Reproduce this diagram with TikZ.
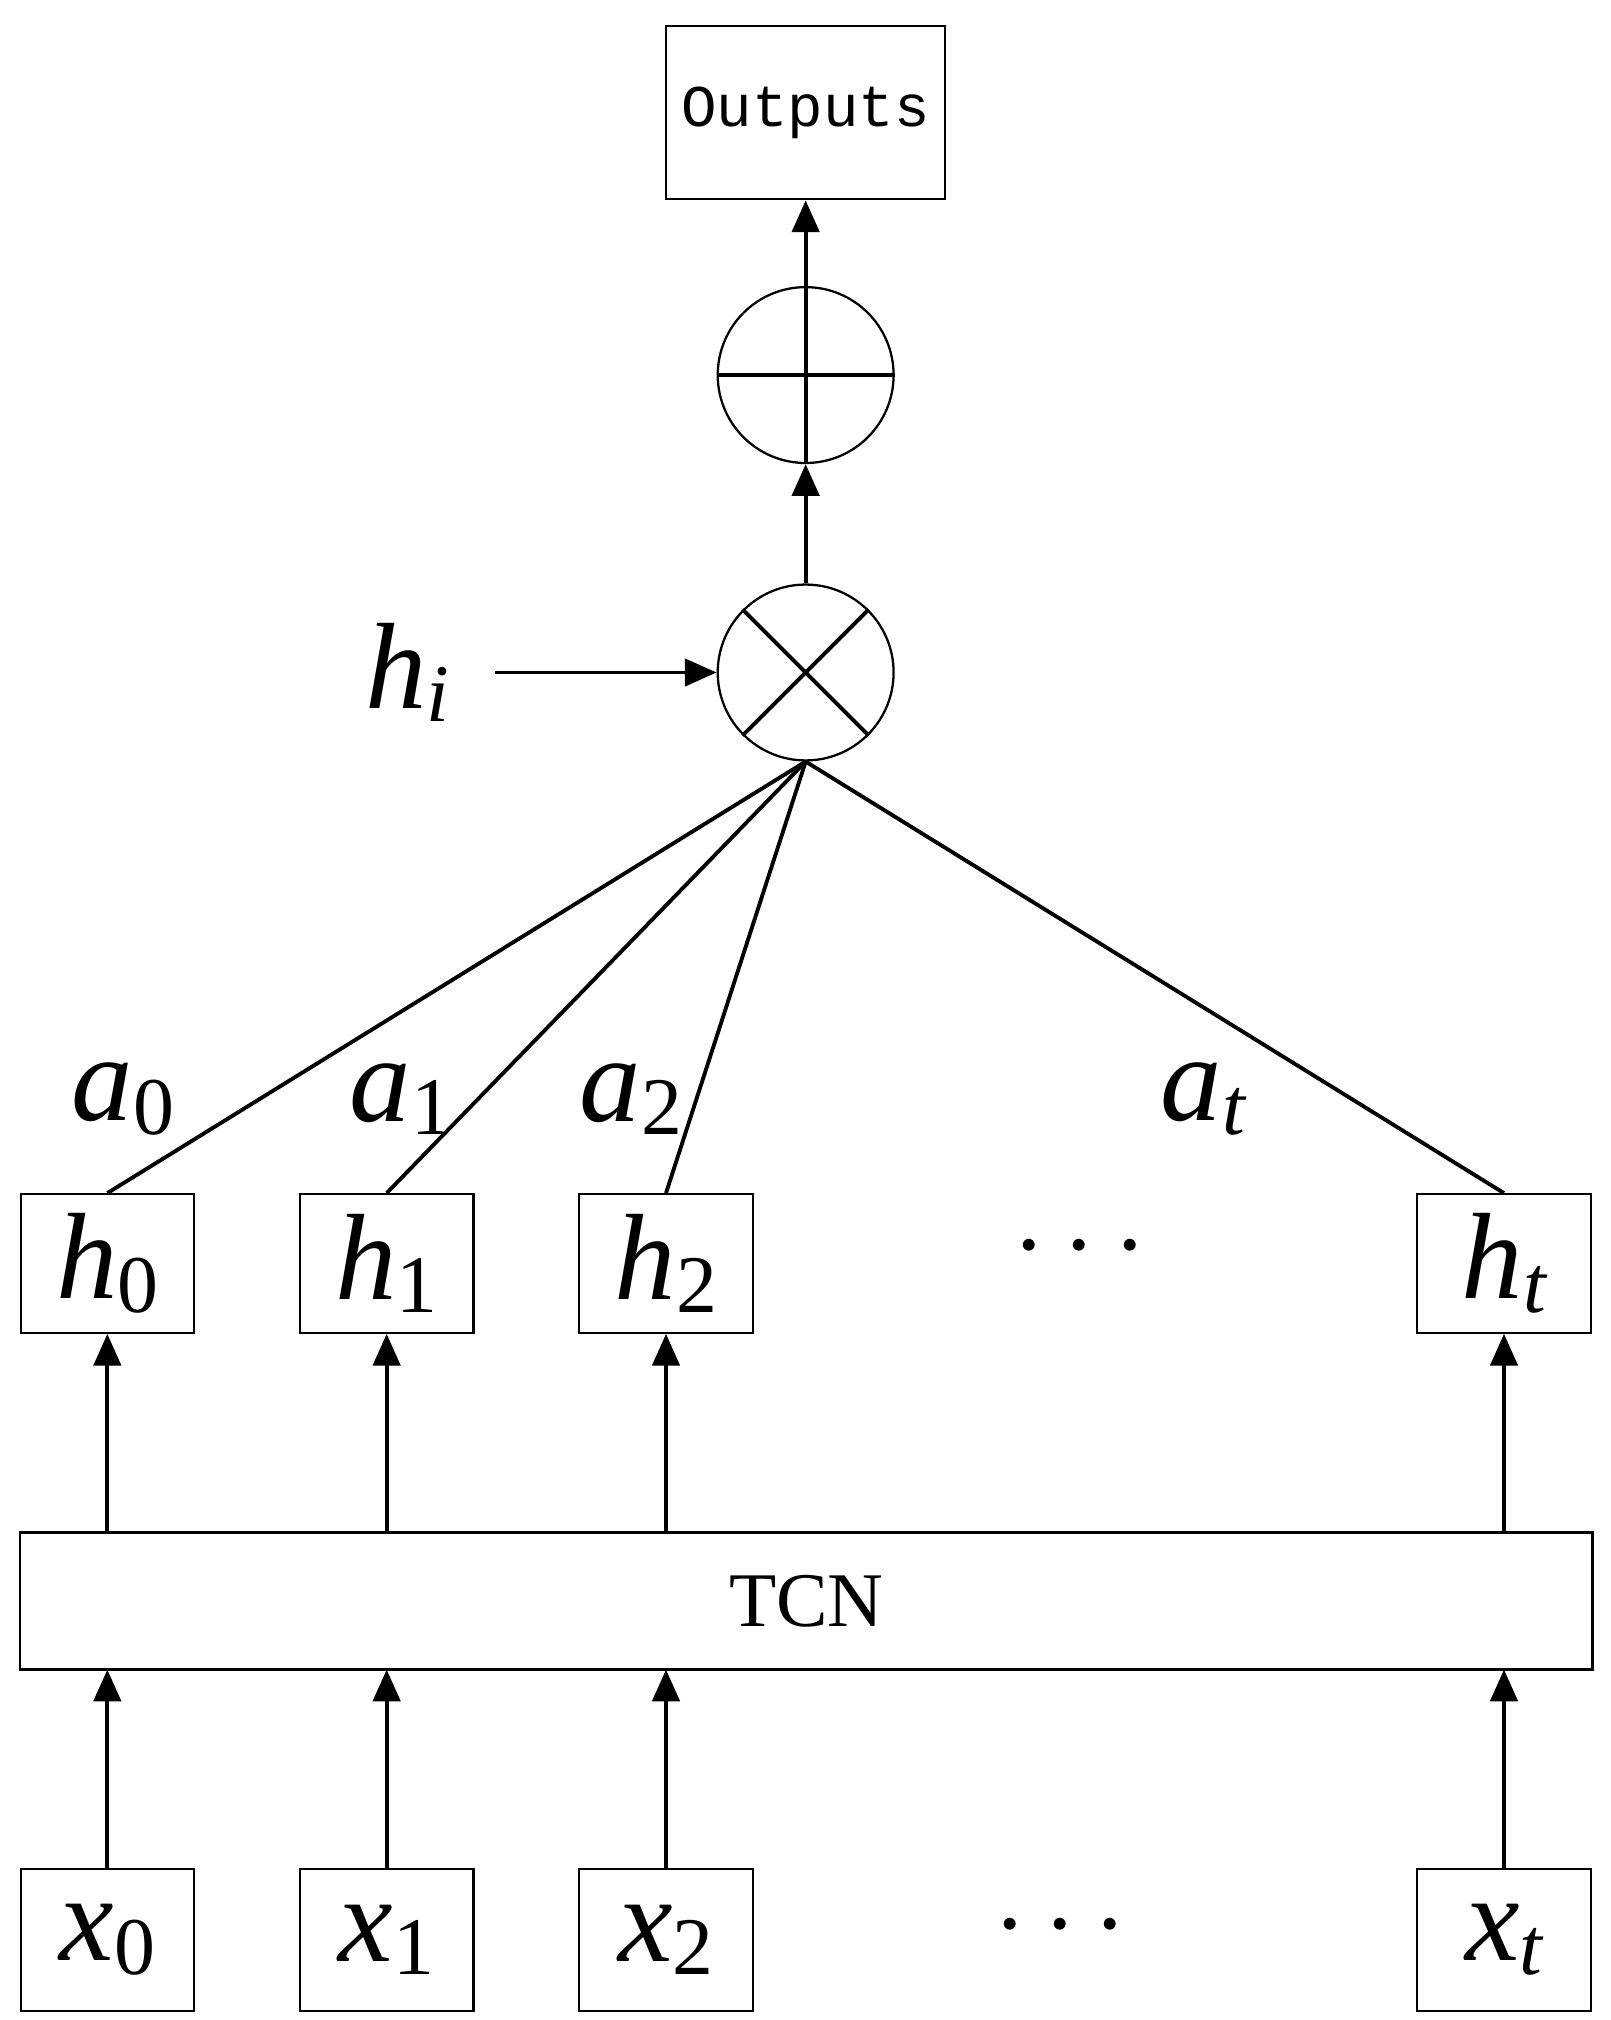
\documentclass[tikz,border=0pt]{standalone}
\usepackage{fontspec}
\setmainfont{Liberation Serif}
\newfontfamily\monof{Liberation Mono}
\usetikzlibrary{arrows.meta}
\newcommand{\sv}[2]{{\fontsize{27}{30}\selectfont\itshape #1}\raisebox{-0.3em}{\fontsize{18}{20}\selectfont #2}}
\begin{document}
\begin{tikzpicture}[x=0.01cm,y=-0.01cm,
  ln/.style={line width=0.85pt},
  arr/.style={ln,-{Triangle[length=7pt,width=6pt]}},
  box/.style={draw,line width=0.5pt,inner sep=0pt,minimum width=134\pgflinewidth},
  cir/.style={draw,line width=0.5pt,circle,minimum size=136*0.01cm,inner sep=0pt}]
\useasboundingbox (0,0) rectangle (1245,1562);
\node[draw,line width=0.5pt,minimum width=2.1cm,minimum height=1.34cm,font=\monof\fontsize{13}{15}\selectfont] (out) at (623,87) {Outputs};
\node[cir] (plus) at (623,290) {};
\draw[ln] (plus.west)--(plus.east) (plus.north)--(plus.south);
\node[cir] (times) at (623,520) {};
\draw[ln] (times.north west)--(times.south east) (times.north east)--(times.south west);
\draw[arr] (plus.north)--(out.south);
\draw[arr] (times.north)--(plus.south);
\node (hi) at (315,520) {\sv{h}{\itshape i}};
\coordinate (hs) at (383,520);
\draw[arr] (hs)--(times.west);
\foreach \n/\x/\s in {0/83/0,1/299/1,2/515/2,t/1163/\itshape t}{
  \node[draw,line width=0.5pt,minimum width=1.34cm,minimum height=1.07cm,inner sep=0pt] (h\n) at (\x,977) {\sv{h}{\s}};
  \node[draw,line width=0.5pt,minimum width=1.34cm,minimum height=1.1cm,inner sep=0pt] (x\n) at (\x,1500) {\sv{x}{\s}};
  \draw[ln] (times.south)--(h\n.north);
}
\node[draw,line width=0.5pt,minimum width=12.15cm,minimum height=1.06cm,font=\fontsize{17}{20}\selectfont] (tcn) at (623.5,1238) {TCN};
\foreach \n/\x in {0/83,1/299,2/515,t/1163}{
  \coordinate (tt\n) at (\x,1185);
  \coordinate (tb\n) at (\x,1291);
  \draw[arr] (tt\n)--(h\n.south);
  \draw[arr] (x\n.north)--(tb\n);
}
\node (a0) at (95,850) {\sv{a}{0}};
\node (a1) at (310,850) {\sv{a}{1}};
\node (a2) at (488,850) {\sv{a}{2}};
\node (at) at (930,850) {\sv{a}{\itshape t}};
\node (d1) at (835,965) {\fontsize{30}{30}\selectfont$\cdots$};
\node (d2) at (820,1490) {\fontsize{30}{30}\selectfont$\cdots$};
\end{tikzpicture}
\end{document}
